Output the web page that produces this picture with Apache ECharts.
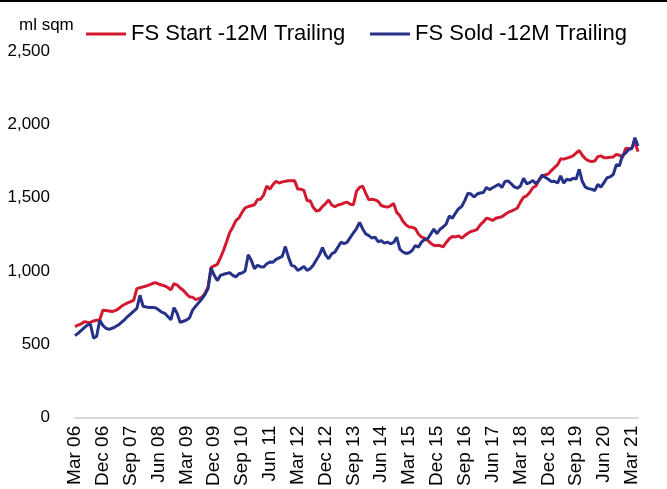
<!DOCTYPE html>
<html>
<head>
<meta charset="utf-8">
<script src="https://cdn.jsdelivr.net/npm/echarts@6/dist/echarts.min.js"></script>
<style>
  html, body { margin: 0; padding: 0; background: #fff; }
  #chart { width: 667px; height: 487px; border-top: 2px solid #000; }
</style>
</head>
<body>
<div id="chart"></div>
<script>
  // monthly, Mar 06 .. May 21
  const months = ['Jan', 'Feb', 'Mar', 'Apr', 'May', 'Jun', 'Jul', 'Aug', 'Sep', 'Oct', 'Nov', 'Dec'];
  const startYear = 2006, startMonth = 2, monthCount = 183;
  const categories = [];
  for (let i = 0; i < monthCount; i++) {
    const m = startMonth + i;
    const y = startYear + Math.floor(m / 12);
    categories.push(months[m % 12] + ' ' + String(y % 100).padStart(2, '0'));
  }

  const fsStart = [
    620, 632, 640, 655, 652, 650, 660, 665, 668, 733,
    731, 728, 724, 730, 742, 760, 772, 783, 792, 802,
    880, 886, 892, 898, 906, 915, 921, 912, 905, 899,
    888, 872, 915, 905, 885, 869, 845, 825, 822, 805,
    812, 820, 847, 890, 1025, 1035, 1045, 1090, 1140, 1200,
    1262, 1299, 1344, 1362, 1400, 1430, 1440, 1445, 1452, 1488,
    1490, 1520, 1580, 1558, 1590, 1612, 1600, 1608, 1612, 1615,
    1615, 1615, 1560, 1558, 1550, 1480, 1480, 1435, 1410, 1415,
    1440, 1460, 1484, 1450, 1438, 1450, 1455, 1465, 1470, 1455,
    1452, 1545, 1570, 1578, 1530, 1485, 1490, 1485, 1475, 1447,
    1440, 1436, 1445, 1460, 1400, 1378, 1340, 1315, 1300, 1298,
    1290, 1253, 1232, 1224, 1209, 1190, 1175, 1174, 1174, 1165,
    1195, 1220, 1235, 1233, 1240, 1225, 1242, 1258, 1270, 1276,
    1285, 1315, 1335, 1360, 1355, 1345, 1360, 1365, 1370, 1385,
    1400, 1408, 1418, 1430, 1470, 1503, 1513, 1536, 1568, 1580,
    1620, 1645, 1655, 1662, 1685, 1705, 1725, 1765, 1763, 1770,
    1776, 1785, 1805, 1822, 1790, 1765, 1752, 1747, 1750, 1780,
    1785, 1773, 1773, 1775, 1778, 1795, 1790, 1773, 1835, 1836,
    1838, 1880, 1814
  ];

  const fsSold = [
    560, 576, 595, 615, 632, 637, 542, 556, 665, 630,
    610, 603, 610, 620, 632, 650, 668, 690, 708, 727,
    745, 835, 760, 755, 752, 752, 750, 736, 720, 712,
    690, 668, 750, 712, 650, 658, 666, 680, 734, 760,
    785, 810, 840, 880, 1021, 971, 935, 970, 978, 984,
    989, 971, 960, 982, 987, 1000, 1111, 1073, 1016, 1039,
    1030, 1028, 1050, 1061, 1060, 1080, 1090, 1100, 1167, 1095,
    1039, 1032, 1005, 1016, 1032, 1005, 1016, 1040, 1075, 1110,
    1160, 1110, 1084, 1118, 1129, 1163, 1197, 1186, 1197, 1230,
    1260, 1290, 1332, 1287, 1253, 1242, 1225, 1231, 1200, 1208,
    1190, 1197, 1186, 1195, 1231, 1150, 1130, 1120, 1125, 1140,
    1174, 1163, 1197, 1215, 1220, 1253, 1287, 1255, 1285, 1300,
    1321, 1375, 1360, 1395, 1425, 1440, 1480, 1530, 1525, 1505,
    1525, 1532, 1536, 1570, 1555, 1568, 1580, 1592, 1570, 1610,
    1615, 1595, 1574, 1565, 1580, 1633, 1595, 1603, 1618, 1595,
    1620, 1655, 1640, 1626, 1610, 1612, 1600, 1649, 1600, 1626,
    1620, 1632, 1628, 1694, 1610, 1572, 1562, 1558, 1548, 1590,
    1572, 1603, 1636, 1642, 1658, 1725, 1718, 1790, 1805, 1828,
    1835, 1909, 1852
  ];

  const seriesNames = ['FS Start -12M Trailing', 'FS Sold -12M Trailing'];
  const yTicks = [0, 500, 1000, 1500, 2000, 2500];

  const font = 'Liberation Sans, Arial, sans-serif';
  const chart = echarts.init(document.getElementById('chart'));
  const legendBase = {
    top: 16,
    icon: 'rect',
    itemWidth: 40,
    itemHeight: 3,
    textStyle: { fontSize: 22, color: '#000', fontFamily: font }
  };
  const option = {
    animation: false,
    textStyle: { fontFamily: font },
    color: ['#d2192f', '#263189'],
    title: {
      text: 'ml sqm',
      left: 14,
      top: 10,
      textStyle: { fontSize: 17, fontWeight: 'normal', color: '#000', fontFamily: font }
    },
    legend: [
      Object.assign({ data: [seriesNames[0]], left: 81 }, legendBase),
      Object.assign({ data: [seriesNames[1]], left: 365 }, legendBase)
    ],
    grid: {
      left: 75,
      right: 29,
      top: 49,
      bottom: 69
    },
    xAxis: {
      type: 'category',
      data: categories,
      boundaryGap: false,
      axisLine: { lineStyle: { color: '#d9d9d9', width: 2 } },
      axisTick: { show: false },
      axisLabel: {
        interval: 8,
        rotate: 90,
        margin: 8,
        fontSize: 19,
        color: '#000',
        fontFamily: font
      }
    },
    yAxis: {
      type: 'value',
      min: yTicks[0],
      max: yTicks[yTicks.length - 1],
      interval: 500,
      axisLine: { show: false },
      axisTick: { show: false },
      splitLine: { show: false },
      axisLabel: {
        margin: 25,
        fontSize: 17,
        color: '#000',
        fontFamily: font,
        formatter: v => v.toLocaleString('en-US')
      }
    },
    series: [
      {
        name: seriesNames[0],
        type: 'line',
        data: fsStart,
        showSymbol: false,
        lineStyle: { width: 3 },
        z: 2
      },
      {
        name: seriesNames[1],
        type: 'line',
        data: fsSold,
        showSymbol: false,
        lineStyle: { width: 3 },
        z: 3
      }
    ]
  };
  chart.setOption(option);
</script>
</body>
</html>
